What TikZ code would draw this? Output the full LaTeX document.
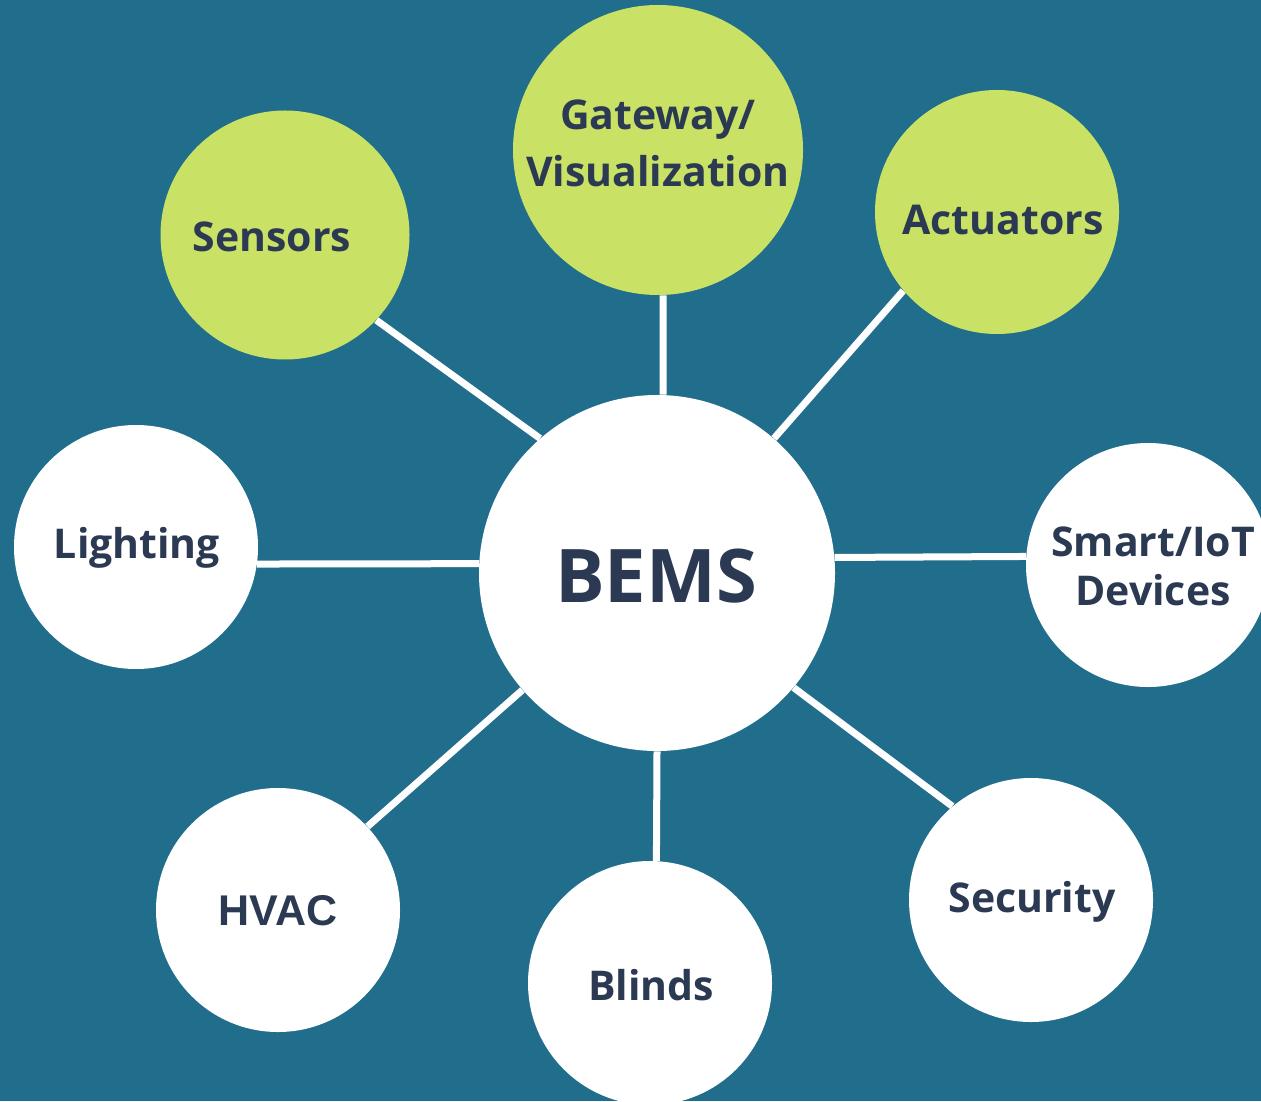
\documentclass[tikz,border=0pt]{standalone}
\usepackage{fontspec}
\setmainfont{Open Sans}
\newfontfamily\hvacfont{Liberation Sans}
\usetikzlibrary{backgrounds}
\definecolor{bemsTeal}{HTML}{216E8C}
\definecolor{bemsLime}{HTML}{C9E265}
\definecolor{bemsInk}{HTML}{2B3A52}
\tikzset{
  hub/.style={circle, fill=white, minimum size=178pt, inner sep=0pt},
  part/.style={circle, fill=white, minimum size=122pt, inner sep=0pt},
  limepart/.style={part, fill=bemsLime},
  tagtext/.style={text=bemsInk, align=center, font=\fontsize{20.5}{28.5}\selectfont\bfseries},
  spoke/.style={draw=white, line width=3.5pt}
}

\begin{document}
\begin{tikzpicture}[x=0.5pt, y=-0.5pt]
  \useasboundingbox (0,0) rectangle (1261,1101);
  \clip (0,0) rectangle (1261,1101);

  % centre
  \node[hub] (bems) at (657,573) {};
  \node[tagtext, font=\fontsize{37}{40}\selectfont\bfseries] (bemstxt) at (656,576) {BEMS};

  % inputs (lime)
  \node[limepart, minimum size=145pt] (gateway) at (658,150) {};
  \node[tagtext] (gatewaytxt) at (658,143) {Gateway/\\Visualization};
  \node[limepart, minimum size=124.5pt] (sensors) at (285,235) {};
  \node[tagtext] (sensorstxt) at (272,237) {Sensors};
  \node[limepart] (actuators) at (997,212) {};
  \node[tagtext] (actuatorstxt) at (1003,220) {Actuators};

  % controlled systems (white)
  \node[part] (lighting) at (136,547) {};
  \node[tagtext] (lightingtxt) at (137,548) {Lighting};
  \node[part] (smart) at (1148,565) {};
  \node[tagtext, font=\fontsize{20.5}{24.5}\selectfont\bfseries] (smarttxt) at (1153,566) {Smart/IoT\\Devices};
  \node[part] (hvac) at (278,910) {};
  \node[tagtext, font=\hvacfont\fontsize{21.5}{24}\selectfont\bfseries] (hvactxt) at (278,911) {HVAC};
  \node[part] (blinds) at (650,983) {};
  \node[tagtext] (blindstxt) at (651,985) {Blinds};
  \node[part] (security) at (1031,900) {};
  \node[tagtext] (securitytxt) at (1032,902) {Security};

  \begin{scope}[on background layer]
    \fill[bemsTeal] (0,0) rectangle (1261,1101);
    % spokes, anchored on the rims
    \draw[spoke] (sensors.-43.5) -- (bems.131);
    \draw[spoke] (gateway.-88.4) -- (bems.88.4);
    \draw[spoke] (actuators.-140) -- (bems.49.5);
    \draw[spoke] (lighting.-8.5) -- (bems.177.4);
    \draw[spoke] (smart.176.2) -- (bems.5.2);
    \draw[spoke] (hvac.43.4) -- (bems.-139);
    \draw[spoke] (blinds.87.7) -- (bems.-90.6);
    \draw[spoke] (security.130.4) -- (bems.-40.8);
  \end{scope}
\end{tikzpicture}
\end{document}
